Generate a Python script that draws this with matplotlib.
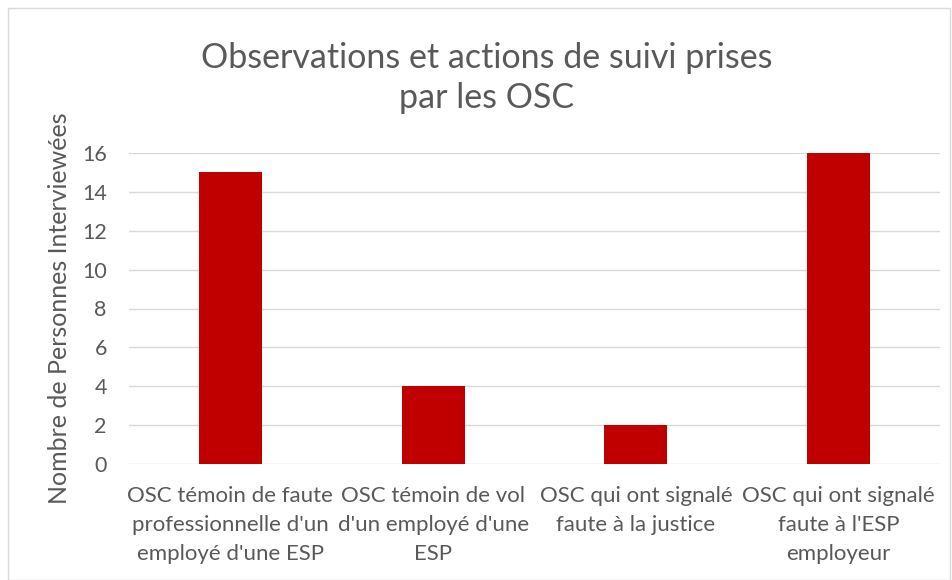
import matplotlib
matplotlib.use("Agg")
import matplotlib.pyplot as plt
from matplotlib.patches import Rectangle

categories = [
    "OSC témoin de faute\nprofessionnelle d'un\nemployé d'une ESP",
    "OSC témoin de vol\nd'un employé d'une\nESP",
    "OSC qui ont signalé\nfaute à la justice",
    "OSC qui ont signalé\nfaute à l'ESP\nemployeur",
]
values = [15, 4, 2, 16]
yticks = [0, 2, 4, 6, 8, 10, 12, 14, 16]
title = "Observations et actions de suivi prises\npar les OSC"
ylabel = "Nombre de Personnes Interviewées"

plt.rcParams['font.family'] = ['Lato', 'DejaVu Sans']
txt = '#595959'

fig = plt.figure(figsize=(9.53, 5.80), dpi=100)
fig.patches.append(Rectangle((8/953, 0), 942/953, 1 - 8/580, transform=fig.transFigure,
                             fill=False, edgecolor='#D9D9D9', linewidth=1))
ax = fig.add_axes([129/953, 1 - 464/580, 811/953, (464 - 153)/580])
x = list(range(len(values)))
ax.bar(x, values, width=0.31, color='#C00000', zorder=3)
ax.set_xlim(-0.5, len(values) - 0.5)
ax.set_ylim(0, 16)
ax.set_yticks(yticks)
ax.grid(axis='y', color='#D9D9D9', linewidth=1, zorder=0)
for s in ax.spines.values():
    s.set_visible(False)
ax.tick_params(axis='both', length=0, colors=txt, labelsize=15.5)
ax.tick_params(axis='y', pad=16)
ax.tick_params(axis='x', pad=16)
ax.set_xticks(x)
ax.set_xticklabels(categories, fontsize=16, color=txt, linespacing=1.55)
ax.set_ylabel(ylabel, fontsize=18, color=txt, labelpad=8)
fig.text(487/953, 1 - 78/580, title, ha='center', va='center', fontsize=24.5, color=txt, linespacing=1.3)
fig.savefig('out.png', dpi=100)
